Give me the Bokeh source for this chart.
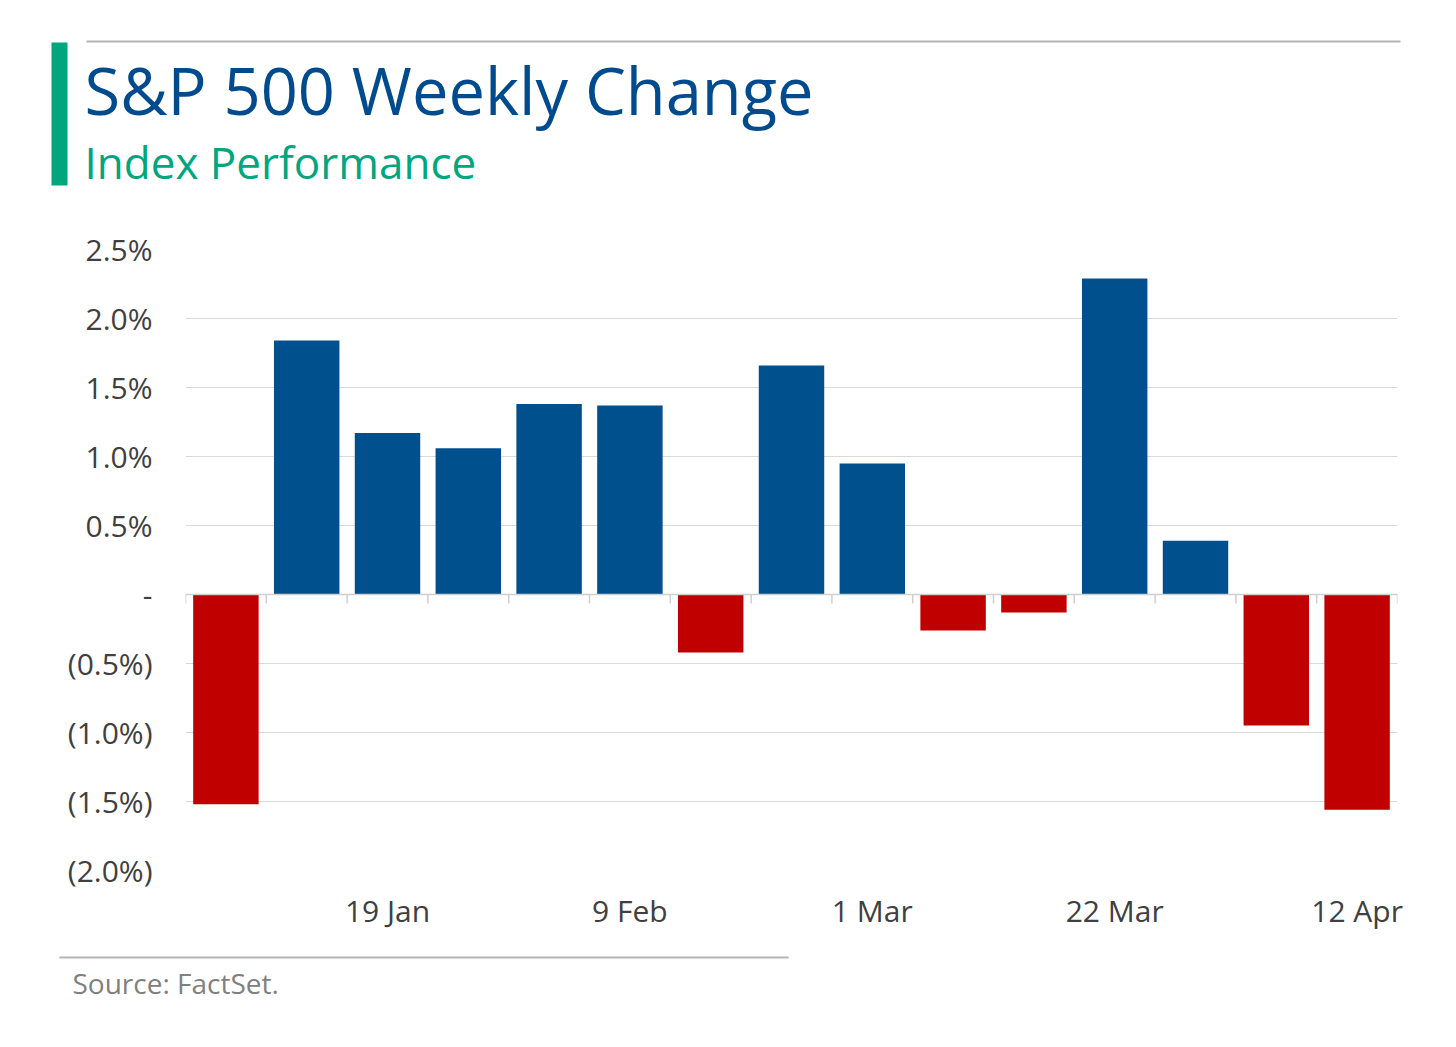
from bokeh.plotting import figure
from bokeh.models import Range1d, FixedTicker, Span, ColumnDataSource
from bokeh.layouts import column, row
from bokeh.embed import file_html
from bokeh.resources import INLINE
from bokeh.core.properties import value

# ---------------- data ----------------
week_labels = ["5 Jan", "12 Jan", "19 Jan", "26 Jan", "2 Feb", "9 Feb", "16 Feb",
               "23 Feb", "1 Mar", "8 Mar", "15 Mar", "22 Mar", "29 Mar", "5 Apr", "12 Apr"]
weekly_change = [-1.52, 1.84, 1.17, 1.06, 1.38, 1.37, -0.42, 1.66, 0.95,
                 -0.26, -0.13, 2.29, 0.39, -0.95, -1.56]
shown_label_idx = [2, 5, 8, 11, 14]
y_ticks = [-2.0, -1.5, -1.0, -0.5, 0.0, 0.5, 1.0, 1.5, 2.0, 2.5]
y_tick_labels = ["(2.0%)", "(1.5%)", "(1.0%)", "(0.5%)", "-", "0.5%", "1.0%", "1.5%", "2.0%", "2.5%"]

title_text = "S&P 500 Weekly Change"
subtitle_text = "Index Performance"
source_text = "Source: FactSet."

# ---------------- style ----------------
FONT = "Open Sans"
BLUE = "#00508E"
RED = "#C00000"
TITLE_BLUE = "#004B8D"
GREEN = "#00A67E"
AXIS_GRAY = "#404040"
RULE_GRAY = "#b4b4b4"
W = 1440


def no_align(f):
    if "frame_align" in type(f).properties():
        f.frame_align = False
    return f


def blank_fig(h, y0):
    f = figure(width=W, height=h, output_backend="svg", toolbar_location=None,
               x_range=Range1d(0, W), y_range=Range1d(y0 + h, y0),
               min_border=0, x_axis_location=None, y_axis_location=None)
    f.grid.visible = False
    f.outline_line_color = None
    return no_align(f)


# ---------------- header (data coords = page pixels) ----------------
HH = 212
hdr = blank_fig(HH, 0)
hdr.segment(x0=[86], y0=[41], x1=[1400], y1=[41], line_color=RULE_GRAY, line_width=2)
hdr.quad(left=[51], right=[67], top=[42], bottom=[185], fill_color=GREEN, line_color=None)
hdr.text(x=[84], y=[89], text=[title_text], text_font=value(FONT), text_font_size="65px",
         text_color=TITLE_BLUE, text_baseline="alphabetic", text_align="left")
hdr.text(x=[84], y=[161], text=[subtitle_text], text_font=value(FONT), text_font_size="44px",
         text_color=GREEN, text_baseline="alphabetic", text_align="left")

# ---------------- main chart ----------------
n = len(weekly_change)
idx = list(range(n))
src = ColumnDataSource(dict(
    x=idx, top=weekly_change,
    color=[BLUE if v >= 0 else RED for v in weekly_change],
))

MH = 940 - HH
p = figure(width=W, height=MH, output_backend="svg", toolbar_location=None,
           x_range=Range1d(-0.5, n - 0.5), y_range=Range1d(y_ticks[0], y_ticks[-1]),
           min_border_top=249 - HH, min_border_bottom=70, min_border_left=185, min_border_right=43)
no_align(p)
p.outline_line_color = None
p.xgrid.visible = False
p.ygrid.grid_line_color = "#d9d9d9"
p.ygrid.grid_line_width = 1

p.vbar(x="x", top="top", bottom=0, width=0.81, fill_color="color", line_color=None, source=src)

# zero axis line with category boundary ticks
p.add_layout(Span(location=0, dimension="width", line_color="#cfcfcf", line_width=1.5))
bounds = [i - 0.5 for i in range(n + 1)]
p.segment(x0=bounds, y0=[0] * len(bounds), x1=bounds, y1=[-0.065] * len(bounds),
          line_color="#cfcfcf", line_width=1.5)

# y axis
p.yaxis.ticker = FixedTicker(ticks=y_ticks)
p.yaxis.major_label_overrides = {t: l for t, l in zip(y_ticks, y_tick_labels)}
p.yaxis.axis_line_color = None
p.yaxis.major_tick_line_color = None
p.yaxis.minor_tick_line_color = None
p.yaxis.major_label_standoff = 27
p.yaxis.major_label_text_font = FONT
p.yaxis.major_label_text_font_size = "30px"
p.yaxis.major_label_text_color = AXIS_GRAY

# x axis
p.xaxis.ticker = FixedTicker(ticks=shown_label_idx)
p.xaxis.major_label_overrides = {i: week_labels[i] for i in shown_label_idx}
p.xaxis.axis_line_color = None
p.xaxis.major_tick_line_color = None
p.xaxis.minor_tick_line_color = None
p.xaxis.major_label_standoff = 13
p.xaxis.major_label_text_font = FONT
p.xaxis.major_label_text_font_size = "30px"
p.xaxis.major_label_text_color = AXIS_GRAY

# ---------------- footer (data coords = page pixels) ----------------
FY0 = HH + MH
FH = 90
ftr = blank_fig(FH, FY0)
ftr.segment(x0=[59], y0=[957], x1=[788], y1=[957], line_color=RULE_GRAY, line_width=2)
ftr.text(x=[72], y=[982], text=[source_text], text_font=value(FONT), text_font_size="28px",
         text_color="#808080", text_baseline="alphabetic", text_align="left")

layout = column(row(hdr), p, row(ftr), spacing=0)
open("out.html", "w").write(file_html(layout, INLINE))
